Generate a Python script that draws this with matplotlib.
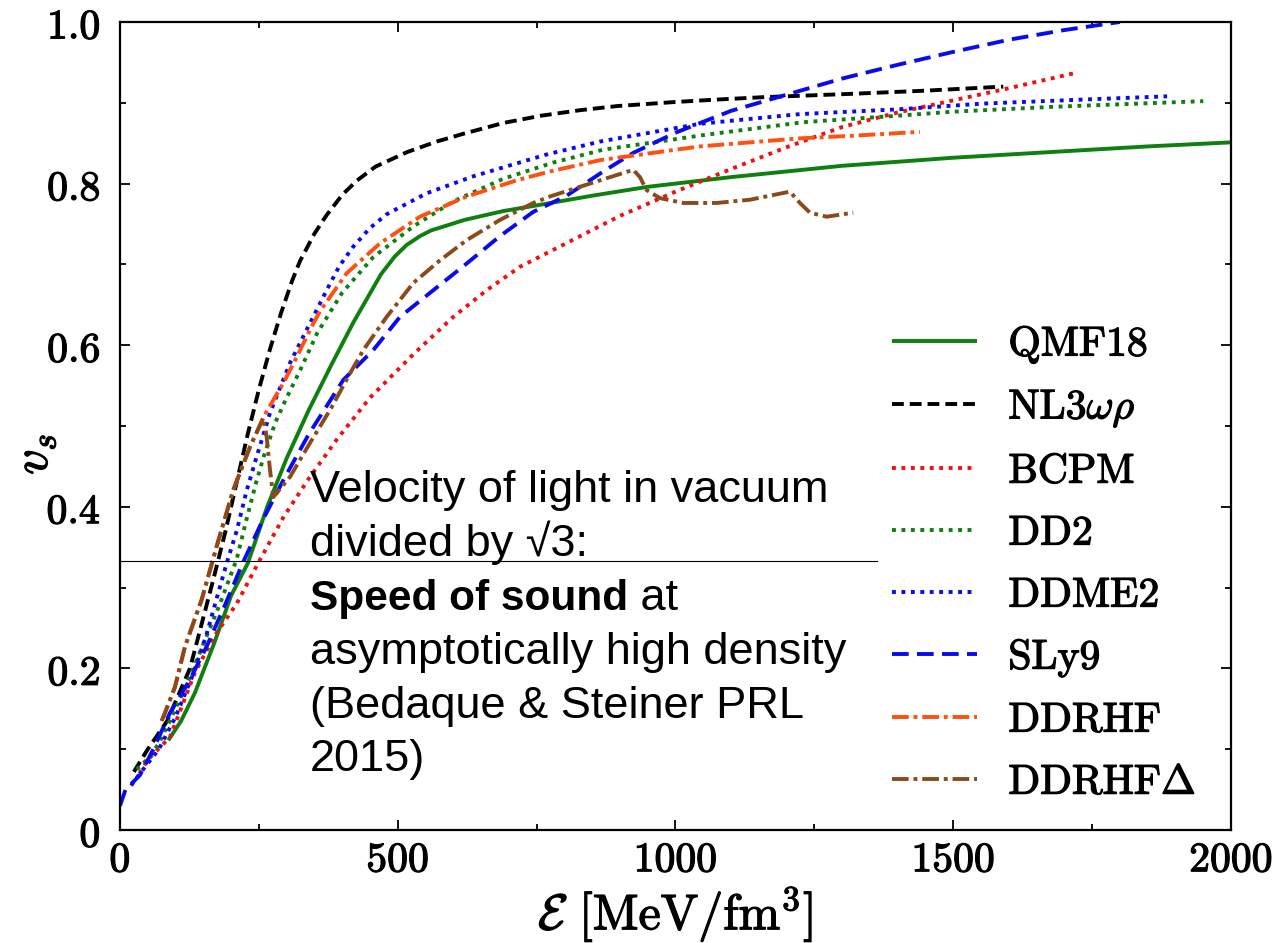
import matplotlib
matplotlib.use("Agg")
import matplotlib.pyplot as plt
import matplotlib.patheffects as pe
from matplotlib.ticker import MultipleLocator, FixedLocator, FixedFormatter

plt.rcParams["mathtext.fontset"] = "cm"
plt.rcParams["lines.scale_dashes"] = False

# Speed of sound v_s versus energy density E [MeV/fm^3]
qmf18_e = [87, 110, 135, 170, 200, 230, 265, 300, 340, 380, 420, 470, 495, 516, 540, 560,
           620, 690, 750, 850, 950, 1100, 1300, 1500, 1700, 1850, 2000]
qmf18_v = [0.111, 0.135, 0.17, 0.232, 0.29, 0.33, 0.40, 0.46, 0.52, 0.575, 0.628, 0.688,
           0.710, 0.724, 0.735, 0.742, 0.755, 0.766, 0.773, 0.785, 0.796, 0.808, 0.822,
           0.832, 0.840, 0.846, 0.851]

nl3_e = [25, 50, 85, 126, 168, 190, 210, 230, 250, 270, 290, 310, 324, 350, 372, 400,
         427, 460, 517, 570, 620, 690, 758, 830, 896, 1000, 1075, 1160, 1314, 1450, 1590]
nl3_v = [0.072, 0.10, 0.135, 0.20, 0.31, 0.37, 0.43, 0.49, 0.545, 0.595, 0.64, 0.68,
         0.704, 0.738, 0.761, 0.786, 0.804, 0.821, 0.839, 0.852, 0.862, 0.875, 0.884,
         0.891, 0.896, 0.901, 0.904, 0.907, 0.911, 0.915, 0.920]

bcpm_e = [35, 50, 90, 135, 170, 210, 250, 295, 340, 390, 450, 530, 600, 660, 720, 800,
          900, 1000, 1100, 1200, 1300, 1400, 1500, 1600, 1720]
bcpm_v = [0.07, 0.087, 0.115, 0.195, 0.24, 0.28, 0.332, 0.388, 0.435, 0.483, 0.535, 0.59,
          0.635, 0.668, 0.697, 0.725, 0.760, 0.790, 0.818, 0.845, 0.870, 0.888, 0.903,
          0.918, 0.937]

dd2_e = [30, 50, 70, 93, 120, 150, 180, 210, 228, 245, 260, 280, 300, 325, 355, 400,
         456, 528, 600, 690, 780, 870, 1050, 1230, 1400, 1500, 1680, 1950]
dd2_v = [0.075, 0.088, 0.107, 0.14, 0.18, 0.23, 0.28, 0.335, 0.385, 0.43, 0.465, 0.505,
         0.535, 0.57, 0.615, 0.665, 0.709, 0.747, 0.778, 0.806, 0.826, 0.842, 0.860,
         0.876, 0.884, 0.889, 0.895, 0.902]

ddme2_e = [20, 36, 70, 100, 130, 155, 175, 192, 210, 228, 246, 270, 306, 336, 372, 395,
           420, 450, 480, 552, 636, 768, 864, 1044, 1224, 1404, 1554, 1734, 1885]
ddme2_v = [0.055, 0.07, 0.10, 0.14, 0.19, 0.24, 0.289, 0.33, 0.37, 0.42, 0.462, 0.516,
           0.578, 0.619, 0.668, 0.698, 0.722, 0.745, 0.762, 0.788, 0.809, 0.836, 0.852,
           0.874, 0.886, 0.892, 0.899, 0.904, 0.908]

sly9_e = [0, 10, 36, 60, 90, 125, 156, 190, 222, 258, 294, 340, 402, 456, 504, 564, 624,
          684, 744, 804, 870, 924, 1000, 1100, 1200, 1300, 1400, 1500, 1600, 1700, 1800]
sly9_v = [0.03, 0.05, 0.068, 0.10, 0.145, 0.185, 0.227, 0.28, 0.332, 0.385, 0.433, 0.49,
          0.557, 0.594, 0.635, 0.668, 0.701, 0.735, 0.765, 0.785, 0.815, 0.838, 0.863,
          0.89, 0.91, 0.930, 0.947, 0.963, 0.978, 0.990, 1.0]

ddrhf_e = [75, 81, 99, 117, 147, 174, 204, 234, 258, 264, 294, 318, 342, 360, 408, 468,
           540, 624, 714, 774, 864, 1044, 1224, 1314, 1440]
ddrhf_v = [0.135, 0.145, 0.177, 0.227, 0.285, 0.351, 0.421, 0.474, 0.51, 0.518, 0.553,
           0.585, 0.619, 0.642, 0.689, 0.726, 0.759, 0.784, 0.804, 0.815, 0.829, 0.846,
           0.856, 0.859, 0.864]

ddrhfd_e = [75, 81, 99, 117, 147, 174, 204, 234, 258, 264, 270, 276, 306, 342, 380, 414,
            438, 480, 528, 576, 624, 684, 744, 774, 864, 924, 936, 948, 972, 1014, 1074,
            1134, 1206, 1224, 1242, 1272, 1320]
ddrhfd_v = [0.135, 0.145, 0.177, 0.227, 0.285, 0.351, 0.421, 0.474, 0.510, 0.487, 0.446,
            0.412, 0.437, 0.479, 0.522, 0.565, 0.594, 0.635, 0.677, 0.705, 0.730, 0.755,
            0.776, 0.784, 0.804, 0.817, 0.808, 0.792, 0.782, 0.776, 0.776, 0.780, 0.79,
            0.776, 0.764, 0.759, 0.764]

conformal_limit = 1.0 / 3.0
conformal_e_max = 1362

x_ticks = [0, 500, 1000, 1500, 2000]
x_tick_labels = ["$0$", "$500$", "$1000$", "$1500$", "$2000$"]
y_ticks = [0, 0.2, 0.4, 0.6, 0.8, 1.0]
y_tick_labels = ["$0$", "$0.2$", "$0.4$", "$0.6$", "$0.8$", "$1.0$"]

fig = plt.figure(figsize=(12.75, 9.43), dpi=100)
ax = fig.add_axes([0.0941, 0.1198, 0.8714, 0.8569])

lw = 2.8
dash = (8.5, 4.3)
dash_long = (12, 6)
dot = (2.8, 4.0)
dashdot = (12, 3.5, 2.8, 3.5)

series = [
    (qmf18_e, qmf18_v, r"$\mathrm{QMF18}$", "#0f7f0f", None),
    (nl3_e, nl3_v, r"$\mathrm{NL3}\omega\rho$", "black", dash),
    (bcpm_e, bcpm_v, r"$\mathrm{BCPM}$", "#f01010", dot),
    (dd2_e, dd2_v, r"$\mathrm{DD2}$", "#0f7f0f", dot),
    (ddme2_e, ddme2_v, r"$\mathrm{DDME2}$", "#0a0af0", dot),
    (sly9_e, sly9_v, r"$\mathrm{SLy9}$", "#0a0af0", dash_long),
    (ddrhf_e, ddrhf_v, r"$\mathrm{DDRHF}$", "#ff5010", dashdot),
    (ddrhfd_e, ddrhfd_v, r"$\mathrm{DDRHF}\Delta$", "#8b4a1c", dashdot),
]

for e, v, label, color, pattern in series:
    line, = ax.plot(e, v, color=color, lw=lw, label=label, solid_capstyle="butt",
                    dash_capstyle="butt")
    if pattern is not None:
        line.set_dashes(pattern)

ax.plot([0, conformal_e_max], [conformal_limit, conformal_limit], color="black", lw=0.8)

ax.set_xlim(0, 2000)
ax.set_ylim(0, 1.0)
ax.xaxis.set_major_locator(FixedLocator(x_ticks))
ax.xaxis.set_major_formatter(FixedFormatter(x_tick_labels))
ax.yaxis.set_major_locator(FixedLocator(y_ticks))
ax.yaxis.set_major_formatter(FixedFormatter(y_tick_labels))
ax.xaxis.set_minor_locator(MultipleLocator(250))
ax.yaxis.set_minor_locator(MultipleLocator(0.1))
ax.tick_params(which="both", direction="in", top=True, right=True, width=1.3)
ax.tick_params(which="major", length=7, labelsize=30)
ax.tick_params(axis="x", which="major", pad=6)
ax.tick_params(axis="y", which="major", pad=14)
ax.tick_params(which="minor", length=4.5)
for s in ax.spines.values():
    s.set_linewidth(1.6)

heavy = [pe.withStroke(linewidth=0.9, foreground="black")]
for lab in ax.get_xticklabels() + ax.get_yticklabels():
    lab.set_path_effects(heavy)

ax.set_xlabel(r"$\mathcal{E}\ [\mathrm{MeV/fm}^3]$", fontsize=36, labelpad=2,
              path_effects=heavy)
ax.set_ylabel(r"$v_s$", fontsize=36, path_effects=heavy)
ax.yaxis.set_label_coords(-0.056, 0.465)

leg = ax.legend(loc="upper left", bbox_to_anchor=(0.6796, 0.6485), frameon=False,
                fontsize=30, handlelength=2.05, handletextpad=0.75, labelspacing=0.48,
                borderaxespad=0)
for t in leg.get_texts():
    t.set_path_effects(heavy)

# Note on the conformal limit
note_font = dict(family=["Liberation Sans", "DejaVu Sans"], color="black")
x0 = 342
baselines_px = [502, 556, 610, 664, 718, 771]
baselines = [(830 - p) / 808 for p in baselines_px]
ax.text(x0, baselines[0], "Velocity of light in vacuum", va="baseline", fontsize=32.5,
        **note_font)
ax.text(x0, baselines[1], "divided by \u221a3:", va="baseline", fontsize=32.5, **note_font)
bold = ax.text(x0, baselines[2], "Speed of sound", va="baseline", fontweight="bold",
               fontsize=30.5, **note_font)
ax.text(x0, baselines[3], "asymptotically high density", va="baseline", fontsize=32.5,
        **note_font)
ax.text(x0, baselines[4], "(Bedaque & Steiner PRL", va="baseline", fontsize=32.5,
        **note_font)
ax.text(x0, baselines[5], "2015)", va="baseline", fontsize=32.5, **note_font)

fig.canvas.draw()
bb = bold.get_window_extent(renderer=fig.canvas.get_renderer())
xd = ax.transData.inverted().transform((bb.x1, 0))[0]
ax.text(xd, baselines[2], " at", va="baseline", fontsize=32.5, **note_font)

fig.savefig("out.png", dpi=100)
